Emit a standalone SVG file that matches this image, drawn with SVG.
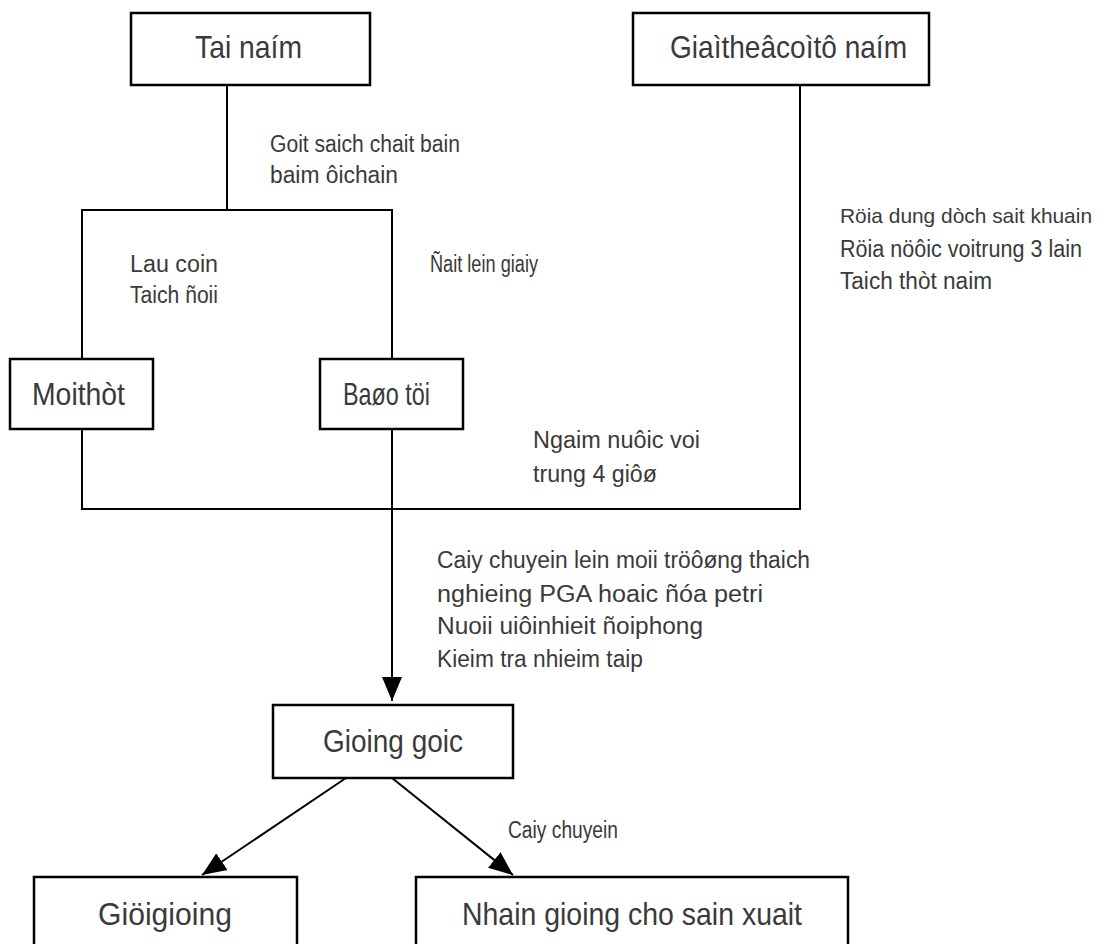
<svg xmlns="http://www.w3.org/2000/svg" width="1115" height="944" viewBox="0 0 1115 944">
<style>
.box{fill:#fff;stroke:#000;stroke-width:2.5}
.bt{font-family:"Liberation Sans",Arial,sans-serif;font-size:32px;fill:#3a3a3a}
.lb{font-family:"Liberation Sans",Arial,sans-serif;font-size:23px;fill:#3a3a3a}
.ln{fill:none;stroke:#000;stroke-width:2}
</style>
<defs>
<marker id="ah" markerUnits="userSpaceOnUse" markerWidth="26" markerHeight="26" viewBox="0 0 26 26" refX="24" refY="13" orient="auto">
<path d="M0,3 L24,13 L0,23 Z" fill="#000"/>
</marker>
</defs>
<rect width="1115" height="944" fill="#fff"/>
<g id="connectors">
<polyline class="ln" points="227,85 227,210"/>
<polyline class="ln" points="82,359 82,210 392,210 392,359"/>
<polyline class="ln" points="82,429 82,509 800,509 800,85"/>
<line class="ln" x1="392" y1="429" x2="392" y2="509"/>
<line class="ln" x1="392" y1="509" x2="392" y2="701" stroke-width="2.5" marker-end="url(#ah)"/>
<line class="ln" x1="346" y1="778" x2="202" y2="875" stroke-width="3" marker-end="url(#ah)"/>
<line class="ln" x1="392" y1="778" x2="513" y2="875" stroke-width="3" marker-end="url(#ah)"/>
</g>
<g id="labels">
<text class="lb" x="270" y="152" textLength="190" lengthAdjust="spacingAndGlyphs">Goit saich chait bain</text>
<text class="lb" x="270" y="183" textLength="128" lengthAdjust="spacingAndGlyphs">baim ôichain</text>
<text class="lb" x="840" y="223" style="font-size:21px" textLength="252" lengthAdjust="spacingAndGlyphs">Röia dung dòch sait khuain</text>
<text class="lb" x="840" y="257" textLength="242" lengthAdjust="spacingAndGlyphs">Röia nöôic voitrung 3 lain</text>
<text class="lb" x="840" y="289" textLength="152" lengthAdjust="spacingAndGlyphs">Taich thòt naim</text>
<text class="lb" x="130" y="272" textLength="88" lengthAdjust="spacingAndGlyphs">Lau coin</text>
<text class="lb" x="130" y="303" textLength="88" lengthAdjust="spacingAndGlyphs">Taich ñoii</text>
<text class="lb" x="430" y="272" textLength="108" lengthAdjust="spacingAndGlyphs">Ñait lein giaiy</text>
<text class="lb" x="533" y="448" textLength="167" lengthAdjust="spacingAndGlyphs">Ngaim nuôic voi</text>
<text class="lb" x="533" y="482" textLength="124" lengthAdjust="spacingAndGlyphs">trung 4 giôø</text>
<text class="lb" x="437" y="568" textLength="373" lengthAdjust="spacingAndGlyphs">Caiy chuyein lein moii tröôøng thaich</text>
<text class="lb" x="437" y="602" textLength="326" lengthAdjust="spacingAndGlyphs">nghieing PGA hoaic ñóa petri</text>
<text class="lb" x="437" y="634" textLength="266" lengthAdjust="spacingAndGlyphs">Nuoii uiôinhieit ñoiphong</text>
<text class="lb" x="437" y="667" textLength="206" lengthAdjust="spacingAndGlyphs">Kieim tra nhieim taip</text>
<text class="lb" x="508" y="838" textLength="110" lengthAdjust="spacingAndGlyphs">Caiy chuyein</text>
</g>
<g id="n-tainam"><rect class="box" x="131" y="13" width="239" height="72"/><text class="bt" x="195" y="58" textLength="107" lengthAdjust="spacingAndGlyphs">Tai naím</text></g>
<g id="n-giaithe"><rect class="box" x="633" y="13" width="296" height="72"/><text class="bt" x="670" y="58" textLength="237" lengthAdjust="spacingAndGlyphs">Giaìtheâcoìtô naím</text></g>
<g id="n-moithot"><rect class="box" x="10" y="359" width="143" height="70"/><text class="bt" x="32" y="405" textLength="93" lengthAdjust="spacingAndGlyphs">Moithòt</text></g>
<g id="n-baotoi"><rect class="box" x="320" y="359" width="143" height="70"/><text class="bt" x="343" y="405" textLength="87" lengthAdjust="spacingAndGlyphs">Baøo töi</text></g>
<g id="n-giongoc"><rect class="box" x="273" y="705" width="240" height="73"/><text class="bt" x="323" y="752" textLength="140" lengthAdjust="spacingAndGlyphs">Gioing goic</text></g>
<g id="n-giugiong"><rect class="box" x="34" y="877" width="263" height="90"/><text class="bt" x="98" y="925" textLength="134" lengthAdjust="spacingAndGlyphs">Giöigioing</text></g>
<g id="n-nhangiong"><rect class="box" x="416" y="877" width="432" height="90"/><text class="bt" x="462" y="925" textLength="340" lengthAdjust="spacingAndGlyphs">Nhain gioing cho sain xuait</text></g>
</svg>
